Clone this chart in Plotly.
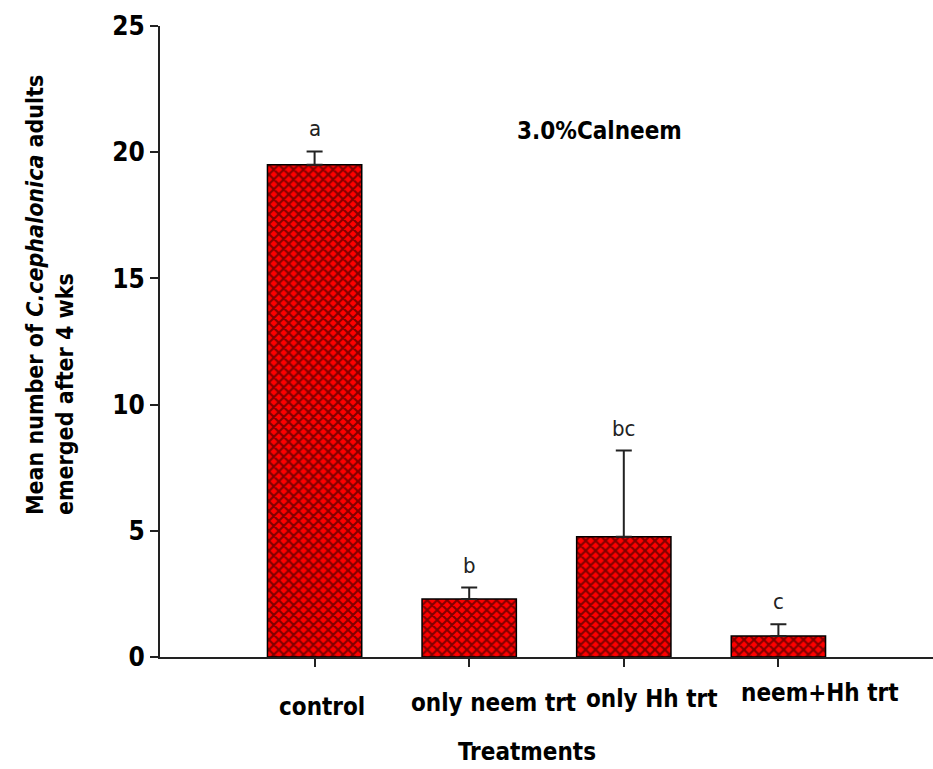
import plotly.graph_objects as go

categories = ["control", "only neem trt", "only Hh trt", "neem+Hh trt"]
means = [19.5, 2.3, 4.76, 0.83]
errors = [0.53, 0.45, 3.42, 0.47]
letters = ["a", "b", "bc", "c"]
y_ticks = [0, 5, 10, 15, 20, 25]

FONT = "Liberation Sans Narrow, DejaVu Sans Condensed, Arial Narrow, Arial, sans-serif"

xpos = list(range(len(categories)))

fig = go.Figure()
fig.add_trace(go.Bar(
    x=xpos, y=means, width=0.61,
    marker=dict(color="red",
                line=dict(color="black", width=1.5),
                pattern=dict(shape="x", fgcolor="black", bgcolor="red", size=7, solidity=0.5)),
    error_y=dict(type="data", symmetric=False, array=errors, arrayminus=[0] * len(errors),
                 color="#222", thickness=2, width=8),
    showlegend=False,
))

# significance letters
for i, (m, e, l) in enumerate(zip(means, errors, letters)):
    fig.add_annotation(x=i, y=m + e, text=l, showarrow=False, yanchor="bottom", yshift=8,
                       font=dict(family=FONT, size=22, color="#222"))

# category labels (staggered as in the original)
label_dx = [0.045, 0.155, 0.18, 0.27]
label_dy = [-50, -46, -42, -36]
for i, c in enumerate(categories):
    fig.add_annotation(x=i + label_dx[i], y=0, yref="paper", text=c, showarrow=False,
                       yanchor="middle", yshift=label_dy[i],
                       font=dict(family=FONT, size=24, color="black", weight="bold"))

fig.add_annotation(x=0.568, xref="paper", y=0.834, yref="paper", yanchor="middle",
                   text="3.0%Calneem", showarrow=False,
                   font=dict(family=FONT, size=24, color="black", weight="bold"))

fig.add_annotation(x=0.475, xref="paper", y=0, yref="paper", yanchor="middle", yshift=-95,
                   text="Treatments", showarrow=False,
                   font=dict(family=FONT, size=24, color="black", weight="bold"))

# y-axis title (two lines, left aligned as in the original)
fig.add_annotation(x=-0.142, xref="paper", y=0.574, yref="paper", xanchor="center", yanchor="middle",
                   textangle=-90, align="left", showarrow=False,
                   text="Mean number of <i>C.cephalonica</i> adults<br>emerged after 4 wks",
                   font=dict(family=FONT, size=23, color="black", weight="bold"))

fig.update_layout(
    width=933, height=769,
    margin=dict(l=160, r=0, t=26, b=112),
    paper_bgcolor="white", plot_bgcolor="white",
    xaxis=dict(range=[-1.0, 4.0], tickvals=xpos, showticklabels=False,
               ticks="outside", ticklen=8, tickwidth=2, tickcolor="#222",
               showline=True, linecolor="#222", linewidth=2, showgrid=False, zeroline=False),
    yaxis=dict(range=[0, 25], tickvals=y_ticks, ticks="outside", ticklen=8, tickwidth=2,
               tickcolor="#222", showline=True, linecolor="#222", linewidth=2,
               showgrid=False, zeroline=False,
               tickfont=dict(family=FONT, size=26, color="black", weight="bold")),
)

fig.write_html("out.html")
